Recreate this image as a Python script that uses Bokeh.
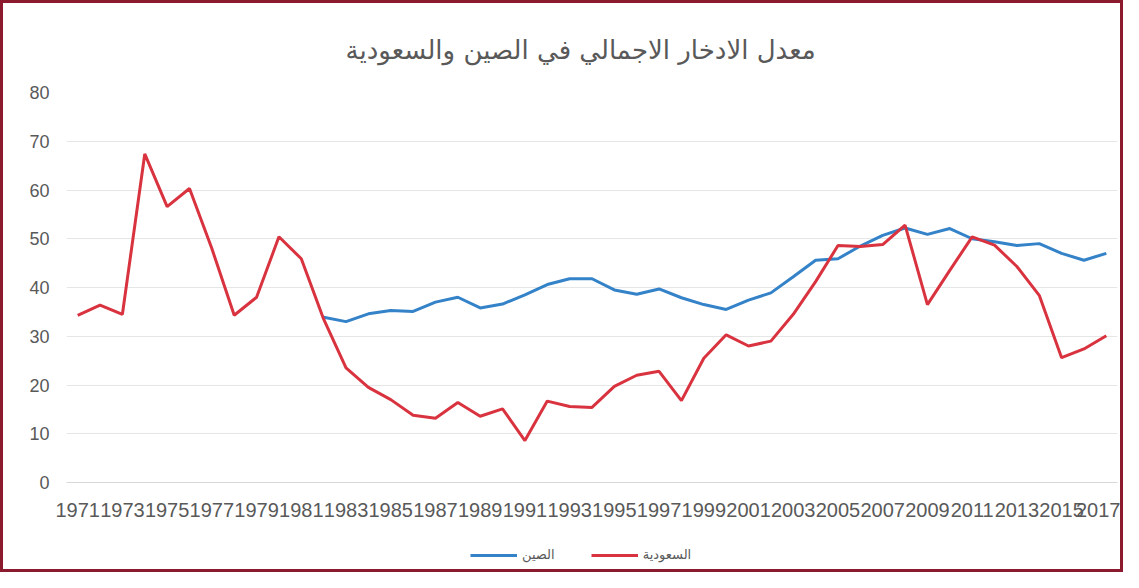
from bokeh.plotting import figure
from bokeh.layouts import column
from bokeh.models import (Range1d, FixedTicker, Legend, LegendItem)
from bokeh.embed import file_html
from bokeh.resources import INLINE

title_text = "معدل الادخار الاجمالي في الصين والسعودية"
china_label = "الصين"
saudi_label = "السعودية"

years = list(range(1971, 2018))
saudi = [34.3, 36.4, 34.5, 67.4, 56.6, 60.3, 48.0, 34.3, 38.0, 50.4,
         45.9, 33.5, 23.5, 19.5, 17.0, 13.8, 13.2, 16.4, 13.6, 15.1,
         8.6, 16.7, 15.6, 15.4, 19.7, 22.0, 22.8, 16.8, 25.5, 30.3,
         28.0, 29.0, 34.5, 41.2, 48.6, 48.4, 48.8, 52.8, 36.5, 43.5,
         50.4, 48.7, 44.3, 38.4, 25.6, 27.4, 30.1]
china_years = list(range(1982, 2018))
china = [33.9, 33.0, 34.6, 35.3, 35.1, 37.0, 38.0, 35.8, 36.6, 38.5,
         40.6, 41.8, 41.8, 39.5, 38.6, 39.7, 37.9, 36.5, 35.5, 37.4,
         38.9, 42.2, 45.6, 45.9, 48.5, 50.7, 52.2, 50.9, 52.1, 50.0,
         49.4, 48.6, 49.0, 47.0, 45.6, 47.0]
x_tick_years = years[::2]
y_ticks = [0, 10, 20, 30, 40, 50, 60, 70, 80]

BORDER = "3px solid #8B1A2E"
BLUE = "#3482C8"
RED = "#D8333F"
W = 1117

p = figure(width=W, height=525, output_backend="svg", toolbar_location=None,
           x_range=Range1d(1970.5, 2017.5), y_range=Range1d(0, 80),
           frame_width=1045, frame_height=387,
           min_border_left=63, min_border_right=9, min_border_top=89,
           min_border_bottom=49)
p.styles = {"border": BORDER, "border-bottom": "none", "box-sizing": "content-box"}
p.background_fill_color = "white"
p.border_fill_color = "white"
p.outline_line_color = None

p.title.text = title_text
p.title.align = "left"
p.title.offset = 279
p.title.text_font = "DejaVu Sans"
p.title.text_font_size = "26px"
p.title.text_font_style = "normal"
p.title.text_color = "#595959"
p.title.standoff = 55

r_china = p.line(china_years, china, line_color=BLUE, line_width=3)
r_saudi = p.line(years, saudi, line_color=RED, line_width=3)

p.xaxis.ticker = FixedTicker(ticks=x_tick_years)
p.yaxis.ticker = FixedTicker(ticks=y_ticks)
for ax in (p.xaxis[0], p.yaxis[0]):
    ax.major_tick_line_color = None
    ax.minor_tick_line_color = None
    ax.major_tick_out = 0
    ax.major_tick_in = 0
    ax.major_label_text_font = "Liberation Sans"
    ax.major_label_text_color = "#595959"
p.xaxis.axis_line_color = "#D9D9D9"
p.yaxis.axis_line_color = None
p.xaxis.major_label_text_font_size = "20px"
p.yaxis.major_label_text_font_size = "18px"
p.xaxis.major_label_standoff = 20
p.yaxis.major_label_standoff = 17

p.xgrid.grid_line_color = None
p.ygrid.grid_line_color = "#E6E6E6"
p.ygrid.grid_line_width = 1

# legend strip below the chart (separate small figure, same border)
leg = figure(width=W, height=41, output_backend="svg", toolbar_location=None,
             x_range=Range1d(0, 1), y_range=Range1d(0, 1),
             x_axis_location=None, y_axis_location=None,
             min_border=0)
leg.styles = {"border": BORDER, "border-top": "none", "box-sizing": "content-box"}
leg.outline_line_color = None
leg.xgrid.visible = False
leg.ygrid.visible = False
lc = leg.line(china_years, china, line_color=BLUE, line_width=3)
ls = leg.line(years, saudi, line_color=RED, line_width=3)
legend = Legend(items=[LegendItem(label=china_label, renderers=[lc]),
                       LegendItem(label=saudi_label, renderers=[ls])],
                orientation="horizontal", location=(404, 10),
                border_line_alpha=0, background_fill_alpha=0,
                glyph_width=47, glyph_height=14, spacing=36,
                padding=0, margin=0,
                label_text_font_size="13px", label_text_color="#595959",
                label_text_font="DejaVu Sans")
leg.add_layout(legend, "center")

layout = column(p, leg, spacing=0)
open("out.html", "w").write(file_html(layout, INLINE))
